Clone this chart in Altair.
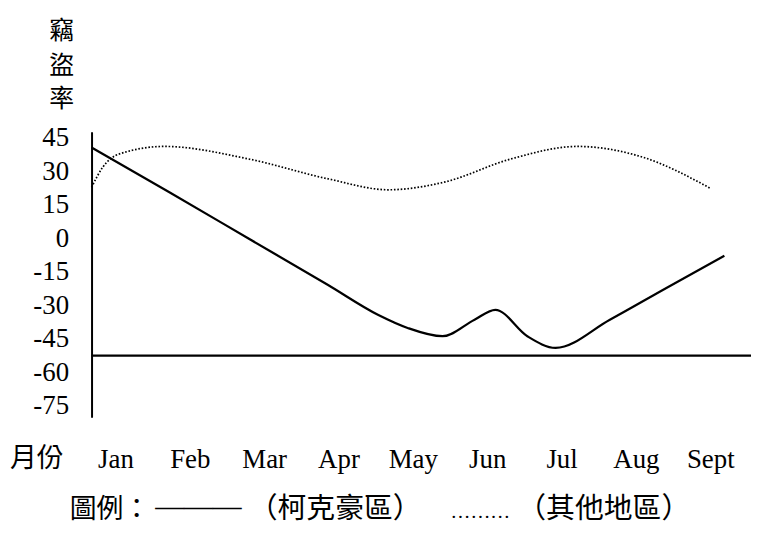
import altair as alt
import pandas as pd

# ---- data ----
months = ["Jan", "Feb", "Mar", "Apr", "May", "Jun", "Jul", "Aug", "Sept"]
month_pos = [1, 2, 3, 4, 5, 6, 7, 8, 9]
y_ticks = [45, 30, 15, 0, -15, -30, -45, -60, -75]

# 柯克豪區 (solid line)
kirk_m = [0.679, 1.72, 2.79, 3.86, 4.53, 4.93, 5.40, 5.83, 6.11, 6.54, 6.92, 7.65, 8.41, 9.19]
kirk_v = [40.6, 20.7, -0.1, -20.9, -34.2, -40.1, -43.8, -36.4, -32.0, -43.8, -49.0, -36.4, -22.2, -7.8]

# 其他地區 (dotted line)
other_m = [0.679, 0.83, 1.05, 1.66, 2.79, 3.86, 4.67, 5.42, 6.32, 7.21, 8.10, 9.01]
other_v = [22.8, 31.8, 37.7, 41.1, 35.5, 26.6, 21.7, 25.1, 35.5, 41.1, 36.2, 22.2]

baseline_value = -52.5

y_title = ["竊", "盜", "率"]
x_title = "月份"
legend_parts = ["圖例：", "———", "（柯克豪區）", "………", "（其他地區）"]

SERIF = "Liberation Serif"
CJK = "Noto Sans CJK TC"

# ---- layout (page pixels) ----
ORIGIN_X, ORIGIN_Y = 92, 131

x_scale = alt.Scale(domain=[0.679, 9.548], nice=False, zero=False)
y_scale = alt.Scale(domain=[-80.03, 47.67], nice=False, zero=False)

label_expr = " : ".join(f"datum.value == {p} ? '{m}'" for p, m in zip(month_pos, months)) + " : ''"


def x_axis():
    return alt.Axis(values=month_pos, labelExpr=label_expr, domain=False, ticks=False,
                    tickSize=0, grid=False, labelFont=SERIF, labelFontSize=27,
                    labelColor="black", labelPadding=43, labelBaseline="middle",
                    title=None, labelFlush=False, labelOverlap=False, labelBound=False)


def y_axis():
    return alt.Axis(values=y_ticks, labelExpr="'' + datum.value", domain=True,
                    domainColor="black", domainWidth=2, ticks=False, tickSize=0,
                    grid=False, labelFont=SERIF, labelFontSize=27, labelColor="black",
                    labelPadding=23, title=None, labelFlush=False, labelOverlap=False,
                    labelBound=False)


df_k = pd.DataFrame({"m": kirk_m, "v": kirk_v})
df_o = pd.DataFrame({"m": other_m, "v": other_v})

line_k = alt.Chart(df_k).mark_line(color="black", strokeWidth=2.2, interpolate="monotone").encode(
    x=alt.X("m:Q", scale=x_scale, axis=x_axis()),
    y=alt.Y("v:Q", scale=y_scale, axis=y_axis()),
)
line_o = alt.Chart(df_o).mark_line(color="black", strokeWidth=1.7, strokeDash=[1.6, 1.8],
                                   strokeCap="butt", interpolate="monotone").encode(
    x=alt.X("m:Q", scale=x_scale, axis=x_axis()),
    y=alt.Y("v:Q", scale=y_scale, axis=y_axis()),
)
rule = alt.Chart(pd.DataFrame({"v": [baseline_value]})).mark_rule(color="black", strokeWidth=2.2).encode(
    y=alt.Y("v:Q", scale=y_scale, axis=y_axis())
)


def txt(t, page_x, page_y, font, size, align="center", baseline="middle"):
    return alt.Chart(pd.DataFrame({"t": [t]})).mark_text(
        font=font, fontSize=size, align=align, baseline=baseline, color="black"
    ).encode(text="t:N", x=alt.value(page_x - ORIGIN_X), y=alt.value(page_y - ORIGIN_Y))


LEG_BASE = 519  # alphabetic baseline of the legend row (page pixels)

layers = [line_k, line_o, rule]
for ch, cy in zip(y_title, [30, 65, 98]):
    layers.append(txt(ch, 62, cy, CJK, 25))
layers += [
    txt(x_title, 37, 460, CJK, 27),
    txt(legend_parts[0], 70, LEG_BASE, CJK, 27, align="left", baseline="alphabetic"),
    txt(legend_parts[1], 156, LEG_BASE - 2, SERIF, 29, align="left", baseline="alphabetic"),
    txt(legend_parts[2], 250, LEG_BASE, CJK, 29, align="left", baseline="alphabetic"),
    txt(legend_parts[3], 453, LEG_BASE, SERIF, 20, align="left", baseline="alphabetic"),
    txt(legend_parts[4], 520, LEG_BASE, CJK, 29, align="left", baseline="alphabetic"),
]

chart = alt.layer(*layers).properties(
    width=663, height=287,
    background="white",
    autosize=alt.AutoSizeParams(type="none"),
    padding={"left": 84, "top": 123, "right": 0, "bottom": 112},
).configure_view(stroke=None)

chart.save("out.html", embed_options={"renderer": "svg", "actions": False})
